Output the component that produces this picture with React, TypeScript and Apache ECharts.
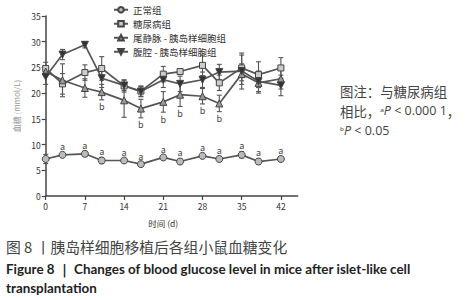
import React, { useEffect, useRef } from "react";
import * as echarts from "echarts";

const days = [0, 3, 7, 10, 14, 17, 21, 24, 28, 31, 35, 38, 42];
const xTicks = [0, 7, 14, 21, 28, 35, 42];

const seriesNames = ["正常组", "糖尿病组", "尾静脉 - 胰岛样细胞组", "腹腔 - 胰岛样细胞组"];

const normalMean = [7.2, 8.0, 8.2, 6.9, 6.9, 6.2, 7.5, 6.7, 7.8, 7.2, 8.0, 6.7, 7.2];
const normalSd = [0.9, 0.4, 0.5, 0.6, 0.4, 0.4, 0.4, 0.5, 0.4, 0.5, 0.6, 0.5, 0.4];

const diabetesMean = [24.8, 21.8, 24.0, 24.8, 21.4, 20.4, 23.7, 24.2, 25.4, 22.0, 24.9, 23.6, 24.9];
const diabetesSd = [1.2, 2.0, 1.5, 2.3, 1.2, 1.0, 1.5, 0.5, 2.0, 1.5, 2.5, 2.5, 2.0];

const tailMean = [24.2, 22.5, 21.0, 20.2, 18.6, 17.0, 18.3, 19.7, 19.4, 18.0, 23.7, 22.0, 22.8];
const tailSd = [1.0, 3.2, 1.8, 1.5, 3.3, 1.8, 2.0, 2.3, 1.5, 1.6, 2.0, 2.0, 2.0];

const ipMean = [23.2, 27.5, 29.4, 22.9, 21.5, 20.3, 22.6, 21.8, 22.6, 24.1, 24.3, 22.3, 21.5];
const ipSd = [1.5, 1.0, 0.6, 1.8, 1.0, 1.0, 1.5, 1.5, 1.5, 1.5, 3.5, 2.0, 2.0];

const sigADays = [3, 7, 10, 14, 17, 21, 24, 28, 31, 35, 38, 42];
const sigBDays = [10, 17, 21, 24, 28, 31];

const noteLines = [
  "{c|图注：与糖尿病组}",
  "{c|相比，}{s|ᵃ}{i|P}{l| < 0.000 1}{c|，}",
  "{s|ᵇ}{i|P}{l| < 0.05}",
];

const FONT = '"Noto Sans CJK SC", "Noto Sans", sans-serif';
const LATIN = '"Open Sans", "Noto Sans", sans-serif';
const AXIS = "#444";

function errorBars(name: string, mean: number[], sd: number[]) {
  return {
    type: "custom",
    name: name + "-err",
    silent: true,
    z: 1,
    data: days.map((d, i) => [d, mean[i], sd[i]]),
    renderItem: (_p: any, api: any) => {
      const x = api.value(0);
      const m = api.value(1);
      const s = api.value(2);
      const t = api.coord([x, m + s]);
      const b = api.coord([x, m - s]);
      const st = { stroke: "#555", lineWidth: 1.1 };
      return {
        type: "group",
        children: [
          { type: "line", shape: { x1: t[0], y1: t[1], x2: b[0], y2: b[1] }, style: st },
          { type: "line", shape: { x1: t[0] - 2.5, y1: t[1], x2: t[0] + 2.5, y2: t[1] }, style: st },
          { type: "line", shape: { x1: b[0] - 2.5, y1: b[1], x2: b[0] + 2.5, y2: b[1] }, style: st },
        ],
      };
    },
  };
}

function sigLabels(letter: string, mean: number[], sd: number[], sigDays: number[], above: boolean) {
  return {
    type: "custom",
    silent: true,
    z: 5,
    data: sigDays.map((d) => {
      const i = days.indexOf(d);
      return [d, above ? mean[i] + sd[i] : mean[i] - sd[i]];
    }),
    renderItem: (_p: any, api: any) => {
      const c = api.coord([api.value(0), api.value(1)]);
      return {
        type: "text",
        x: c[0],
        y: above ? c[1] - 6 : c[1] + 7,
        style: {
          text: letter,
          fill: "#444",
          fontSize: 9,
          fontFamily: FONT,
          align: "center",
          verticalAlign: "middle",
        },
      };
    },
  };
}

function lineSeries(name: string, mean: number[], symbol: string, fill: string, rotate = 0) {
  return {
    type: "line",
    name,
    z: 3,
    data: days.map((d, i) => [d, mean[i]]),
    symbol,
    symbolSize: symbol === "rect" ? 6 : 7,
    symbolRotate: rotate,
    showAllSymbol: true,
    lineStyle: { color: "#555", width: 1.7 },
    itemStyle: { color: fill, borderColor: "#444", borderWidth: 1 },
  };
}

export default function App() {
  const ref = useRef<HTMLDivElement>(null);
  useEffect(() => {
    if (!ref.current) return;
    const chart = echarts.init(ref.current, null, { renderer: "svg" });
    const LH = 14;
    chart.setOption({
      animation: false,
      backgroundColor: "#fff",
      grid: { left: 45.7, right: 175.3, top: 16, bottom: 104 },
      legend: {
        orient: "vertical",
        left: 108,
        top: 0,
        itemWidth: 14,
        itemHeight: 7,
        itemGap: 4.5,
        textStyle: { fontSize: 9.5, color: "#333", fontFamily: FONT },
        data: seriesNames,
      },
      xAxis: {
        type: "value",
        min: 0,
        max: 45,
        interval: 7,
        name: "时间 (d)",
        nameLocation: "middle",
        nameGap: 23,
        nameTextStyle: { fontSize: 8.5, color: "#333", fontFamily: FONT, padding: [0, 17, 0, 0] },
        axisLine: { show: true, lineStyle: { color: AXIS, width: 1.5 } },
        axisTick: { show: true, length: 4, lineStyle: { color: AXIS, width: 1.2 }, customValues: xTicks },
        axisLabel: {
          fontSize: 8.5,
          color: "#333",
          fontFamily: FONT,
          margin: 6,
          customValues: xTicks,
          formatter: (v: number) => (v > 42 ? "" : String(v)),
        },
        splitLine: { show: false },
      },
      yAxis: {
        type: "value",
        min: 0,
        max: 35,
        interval: 5,
        name: "血糖 (mmol/L)",
        nameLocation: "middle",
        nameGap: 19,
        nameTextStyle: { fontSize: 8, color: "#999", fontFamily: FONT },
        axisLine: { show: true, lineStyle: { color: AXIS, width: 1.5 } },
        axisTick: { show: true, length: 4, lineStyle: { color: AXIS, width: 1.2 } },
        axisLabel: { fontSize: 8.5, color: "#333", fontFamily: FONT, margin: 5 },
        splitLine: { show: false },
      },
      series: [
        errorBars(seriesNames[0], normalMean, normalSd),
        errorBars(seriesNames[1], diabetesMean, diabetesSd),
        errorBars(seriesNames[2], tailMean, tailSd),
        errorBars(seriesNames[3], ipMean, ipSd),
        lineSeries(seriesNames[0], normalMean, "circle", "#bbb"),
        lineSeries(seriesNames[1], diabetesMean, "rect", "#ccc"),
        lineSeries(seriesNames[2], tailMean, "triangle", "#999"),
        lineSeries(seriesNames[3], ipMean, "triangle", "#333", 180),
        sigLabels("a", normalMean, normalSd, sigADays, true),
        sigLabels("b", tailMean, tailSd, sigBDays, false),
      ],
      graphic: [
        ...noteLines.map((t, k) => ({
          type: "text",
          left: 340,
          top: 84 + k * 19.5,
          style: {
            text: t,
            fontSize: 13.4,
            lineHeight: LH,
            fill: "#444",
            fontFamily: FONT,
            rich: {
              c: { fontSize: 13.4, lineHeight: LH, fill: "#444", fontFamily: FONT },
              s: { fontSize: 10, lineHeight: LH, fill: "#444", fontFamily: LATIN },
              i: { fontStyle: "italic", fontSize: 12.5, lineHeight: LH, fill: "#444", fontFamily: LATIN },
              l: { fontSize: 12.5, lineHeight: LH, fill: "#444", fontFamily: LATIN },
            },
          },
        })),
        {
          type: "text",
          left: 6,
          top: 239,
          style: {
            text: "图 8 丨胰岛样细胞移植后各组小鼠血糖变化",
            fontSize: 14.8,
            fill: "#444",
            fontFamily: FONT,
          },
        },
        {
          type: "text",
          left: 6,
          top: 259,
          style: {
            text: "Figure 8 ｜ Changes of blood glucose level in mice after islet-like cell\ntransplantation",
            fontSize: 13.4,
            lineHeight: 19,
            fontWeight: "bold",
            fill: "#222",
            fontFamily: "Lato, 'Open Sans', sans-serif",
          },
        },
      ],
    });
    return () => chart.dispose();
  }, []);
  return (
    <div
      ref={ref}
      style={{ position: "fixed", left: 0, top: 0, width: 473, height: 300, background: "#fff" }}
    />
  );
}
